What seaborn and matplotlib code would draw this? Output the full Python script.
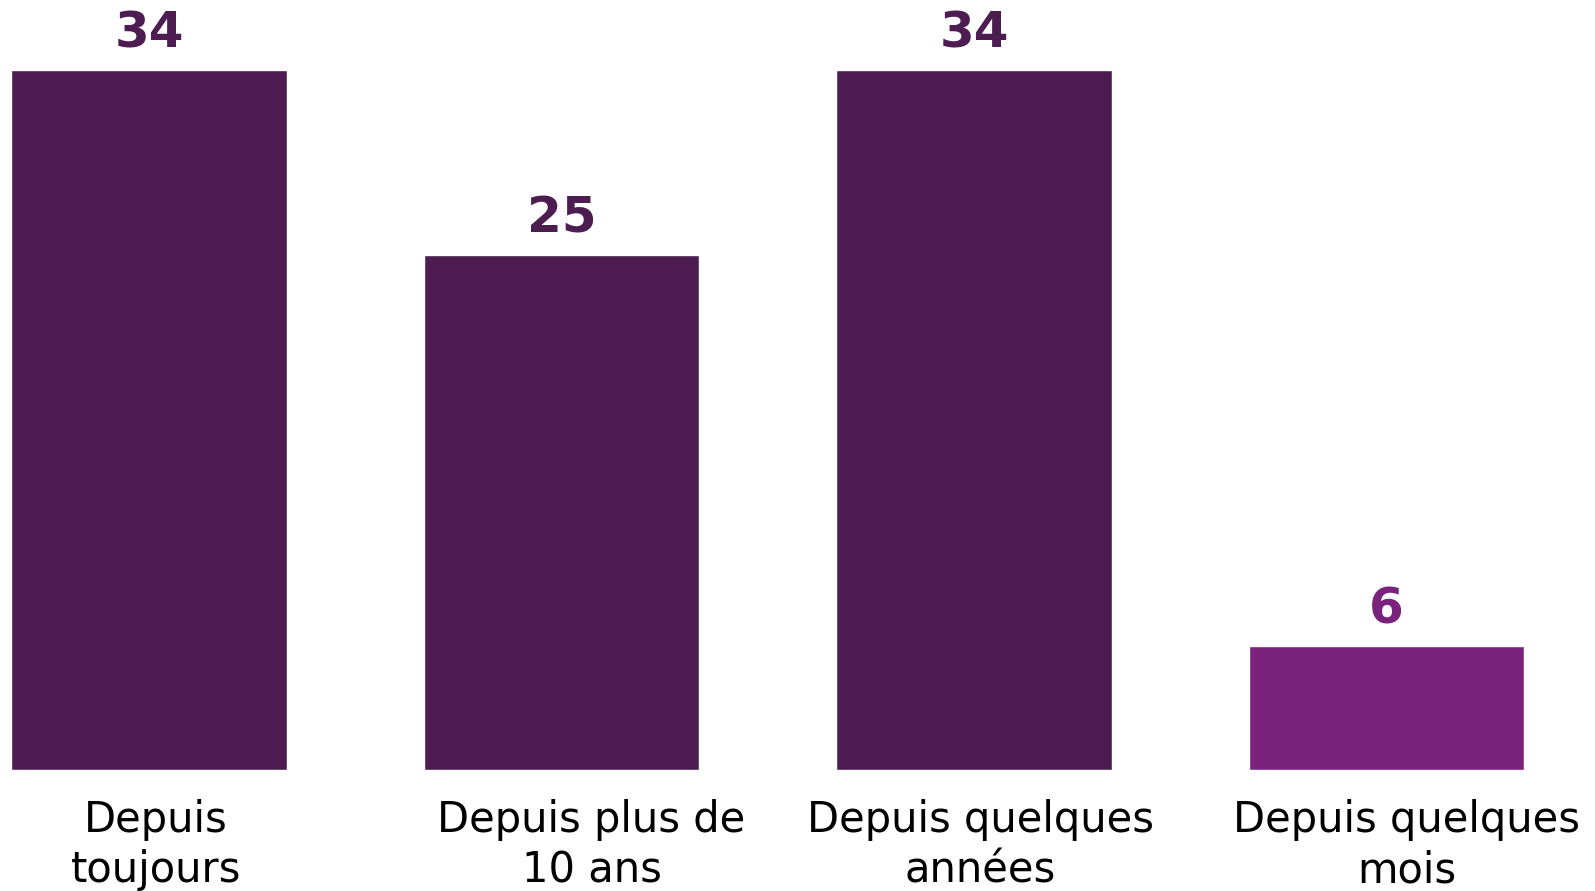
import seaborn as sns
import numpy as np
import pandas as pd
import matplotlib.pyplot as plt
import matplotlib.transforms as mtransforms

categories = ["Depuis\ntoujours", "Depuis plus de\n10 ans", "Depuis quelques\nannées", "Depuis quelques\nmois"]
values = [34, 25, 34, 6]
bar_colors = ["#4d1d52", "#4d1d52", "#4d1d52", "#7a237d"]

df = pd.DataFrame({"cat": categories, "val": values})

sns.set_style("white")
plt.rcParams['font.family'] = ['DejaVu Sans']

fig = plt.figure(figsize=(15.95, 8.91), dpi=100)
ax = fig.add_axes([0, 0.1358, 1, 0.8642])

sns.barplot(data=df, x="cat", y="val", hue="cat", palette=bar_colors,
            width=0.667, legend=False, ax=ax, saturation=1)

ax.set_xlim(-0.361, 3.505)
ax.set_ylim(0, 37.4)

for i, c in enumerate(ax.containers):
    ax.bar_label(c, labels=[str(values[i])], padding=9, fontsize=36,
                 fontweight='bold', color=bar_colors[i])

ax.set_xlabel("")
ax.set_ylabel("")
ax.set_yticks([])
ax.tick_params(axis='x', length=0, pad=21, labelsize=30, labelcolor='black')
# the labels in the original sit a little right of the bar centres
shifts = [7, 30, 6, 20]
for lab, dx in zip(ax.get_xticklabels(), shifts):
    lab.set_linespacing(1.25)
    lab.set_transform(lab.get_transform() + mtransforms.Affine2D().translate(dx, 0))
sns.despine(ax=ax, left=True, bottom=True)

plt.savefig('out.png', dpi=100)
